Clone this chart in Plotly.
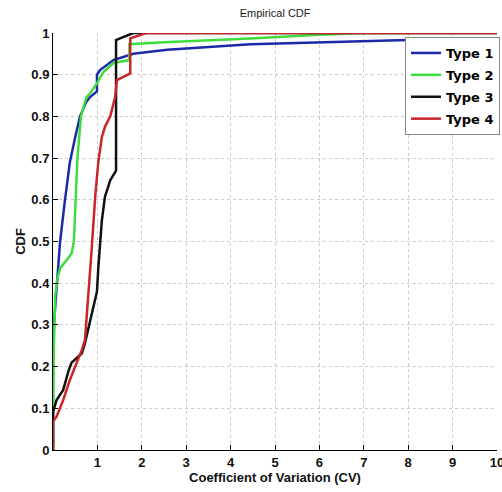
import plotly.graph_objects as go

# Type 1 (blue)
t1_x = [0, 0, 0.02, 0.09, 0.12, 0.16, 0.27, 0.38, 0.5, 0.61, 0.75, 0.84, 0.99, 0.99, 1.06, 1.36, 1.81, 2.57, 4.45, 8.0, 10]
t1_y = [0, 0.22, 0.30, 0.40, 0.436, 0.50, 0.60, 0.69, 0.75, 0.80, 0.835, 0.847, 0.86, 0.90, 0.911, 0.935, 0.95, 0.96, 0.973, 0.983, 0.985]
# Type 2 (green)
t2_x = [0, 0, 0.02, 0.05, 0.1, 0.16, 0.34, 0.42, 0.47, 0.52, 0.55, 0.63, 0.75, 0.84, 0.99, 1.13, 1.36, 1.72, 1.72, 2.5, 4.45, 6.0, 7.0, 10]
t2_y = [0, 0.10, 0.25, 0.37, 0.41, 0.436, 0.46, 0.472, 0.50, 0.607, 0.70, 0.80, 0.845, 0.856, 0.879, 0.906, 0.928, 0.935, 0.973, 0.978, 0.987, 0.996, 1.0, 1.0]
# Type 3 (black)
t3_x = [0, 0, 0.08, 0.23, 0.35, 0.42, 0.53, 0.65, 0.72, 0.8, 0.91, 0.99, 1.02, 1.06, 1.1, 1.17, 1.29, 1.42, 1.42, 1.51, 1.69, 1.81, 10]
t3_y = [0, 0.09, 0.12, 0.144, 0.19, 0.21, 0.22, 0.232, 0.256, 0.292, 0.348, 0.38, 0.436, 0.49, 0.55, 0.607, 0.647, 0.67, 0.983, 0.987, 0.995, 1.0, 1.0]
# Type 4 (red)
t4_x = [0, 0, 0.08, 0.23, 0.38, 0.53, 0.65, 0.72, 0.76, 0.82, 0.87, 0.95, 1.02, 1.1, 1.17, 1.29, 1.4, 1.44, 1.58, 1.74, 1.74, 1.96, 2.1, 10]
t4_y = [0, 0.068, 0.08, 0.12, 0.168, 0.208, 0.24, 0.264, 0.316, 0.396, 0.48, 0.607, 0.69, 0.75, 0.775, 0.80, 0.847, 0.887, 0.895, 0.903, 0.987, 0.995, 1.0, 1.0]

names = ["Type 1", "Type 2", "Type 3", "Type 4"]
colors = ["#1c2aa8", "#3fdc3f", "#111111", "#c8262a"]
xs = [t1_x, t2_x, t3_x, t4_x]
ys = [t1_y, t2_y, t3_y, t4_y]

x_ticks = [1, 2, 3, 4, 5, 6, 7, 8, 9, 10]
y_ticks = [0, 0.1, 0.2, 0.3, 0.4, 0.5, 0.6, 0.7, 0.8, 0.9, 1]
y_ticktext = ["0", "0.1", "0.2", "0.3", "0.4", "0.5", "0.6", "0.7", "0.8", "0.9", "1"]

fig = go.Figure()
for i in range(4):
    fig.add_trace(go.Scatter(x=xs[i], y=ys[i], mode="lines", name=names[i],
                             legendgroup=names[i],
                             line=dict(color=colors[i], width=2.5)))

W, H = 502, 492
ml, mr, mt, mb = 53, 5, 33, 42

fig.update_layout(
    width=W, height=H,
    margin=dict(l=ml, r=mr, t=mt, b=mb, autoexpand=False),
    paper_bgcolor="white", plot_bgcolor="white",
    showlegend=True,
    title=dict(text="Empirical CDF", x=0.548, xanchor="center", y=1 - 13 / H,
               yanchor="middle", font=dict(family="Liberation Sans", size=11, color="#222")),
    legend=dict(x=(405 - ml) / (W - ml - mr), y=(450 - 37) / 417, xanchor="left", yanchor="top",
                bgcolor="white", bordercolor="#888", borderwidth=1,
                font=dict(family="DejaVu Sans", size=13, color="black", weight="bold"),
                tracegroupgap=2, itemwidth=30),
    xaxis=dict(range=[0, 10], tickvals=x_ticks, ticktext=[str(v) for v in x_ticks],
               automargin=False, ticklabeloverflow="allow",
               showgrid=True, gridcolor="#cccccc", griddash="dot", gridwidth=1,
               zeroline=False, showline=True, linecolor="black", linewidth=1,
               ticks="inside", ticklen=5, tickcolor="black",
               tickfont=dict(family="Liberation Sans", size=13, color="#111", weight="bold"),
               title=dict(text="Coefficient of Variation (CV)", standoff=4,
                          font=dict(family="Liberation Sans", size=13, color="#111", weight="bold"))),
    yaxis=dict(range=[0, 1], tickvals=y_ticks, ticktext=y_ticktext,
               automargin=False, ticklabeloverflow="allow",
               showgrid=True, gridcolor="#cccccc", griddash="dot", gridwidth=1,
               zeroline=False, showline=True, linecolor="black", linewidth=1,
               ticks="inside", ticklen=5, tickcolor="black",
               tickfont=dict(family="Liberation Sans", size=13, color="#111", weight="bold"),
               title=dict(text="CDF", standoff=2,
                          font=dict(family="Liberation Sans", size=13, color="#111", weight="bold"))),
)

fig.write_html("out.html")
